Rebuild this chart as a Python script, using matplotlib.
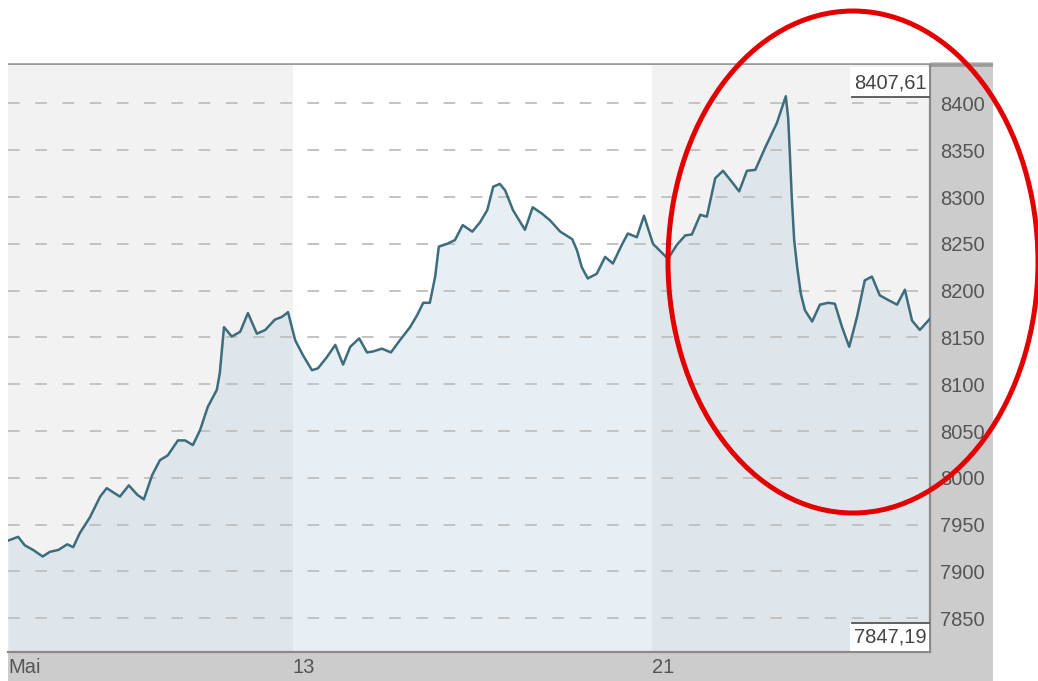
import matplotlib
matplotlib.use("Agg")
import matplotlib.pyplot as plt
from matplotlib.patches import Ellipse, Rectangle

plt.rcParams["font.family"] = ["Liberation Sans", "DejaVu Sans"]

# time in trading days since the start of the window, index level
days = [0.00, 0.17, 0.28, 0.42, 0.58, 0.70, 0.84, 0.99, 1.09, 1.20,
        1.37, 1.54, 1.65, 1.87, 2.02, 2.16, 2.27, 2.41, 2.54, 2.67,
        2.84, 2.96, 3.09, 3.21, 3.34, 3.49, 3.54, 3.61, 3.74, 3.88,
        4.01, 4.16, 4.30, 4.46, 4.58, 4.68, 4.80, 4.93, 5.08, 5.18,
        5.33, 5.47, 5.60, 5.72, 5.87, 6.00, 6.10, 6.25, 6.40, 6.55,
        6.72, 6.84, 6.94, 7.05, 7.14, 7.20, 7.34, 7.47, 7.60, 7.76,
        7.89, 8.01, 8.11, 8.22, 8.31, 8.44, 8.64, 8.77, 8.93, 9.06,
        9.23, 9.43, 9.51, 9.59, 9.69, 9.84, 9.98, 10.11, 10.26, 10.36,
        10.51, 10.63, 10.78, 11.03, 11.18, 11.32, 11.43, 11.57, 11.68, 11.82,
        11.95, 12.10, 12.22, 12.35, 12.49, 12.65, 12.85, 13.00, 13.04, 13.07,
        13.10, 13.14, 13.19, 13.25, 13.32, 13.44, 13.57, 13.71, 13.82, 13.94,
        14.06, 14.19, 14.32, 14.44, 14.57, 14.71, 14.86, 14.99, 15.11, 15.24,
        15.41]
level = [7933, 7937, 7928, 7923, 7916, 7921, 7923, 7929, 7926, 7941,
         7958, 7980, 7989, 7980, 7992, 7982, 7977, 8003, 8019, 8024,
         8040, 8040, 8035, 8051, 8076, 8094, 8112, 8161, 8151, 8156,
         8176, 8154, 8158, 8169, 8172, 8177, 8147, 8131, 8115, 8117,
         8129, 8142, 8121, 8140, 8149, 8134, 8135, 8138, 8134, 8147,
         8161, 8174, 8187, 8187, 8215, 8247, 8250, 8254, 8270, 8263,
         8273, 8286, 8311, 8314, 8307, 8286, 8265, 8289, 8282, 8275,
         8263, 8255, 8243, 8225, 8213, 8218, 8236, 8229, 8249, 8261,
         8257, 8280, 8250, 8234, 8249, 8259, 8260, 8281, 8279, 8320,
         8328, 8316, 8306, 8328, 8329, 8352, 8379, 8407.61, 8384, 8343,
         8299, 8254, 8225, 8197, 8179, 8167, 8185, 8187, 8186, 8161,
         8140, 8172, 8211, 8215, 8195, 8190, 8185, 8201, 8168, 8158,
         8170]

day_starts = [0, 4.76, 10.76]
day_labels = ["Mai", "13", "21"]
shaded = [(0, 4.76), (10.76, 15.41)]
yticks = [7850, 7900, 7950, 8000, 8050, 8100, 8150, 8200, 8250, 8300, 8350, 8400]
hi_label = "8407,61"
lo_label = "7847,19"

W, H = 1038, 681
fig = plt.figure(figsize=(W / 100, H / 100), dpi=100)
fig.patch.set_facecolor("white")

# background frame (grey bands, top rule), pixel coordinates
bg = fig.add_axes([0, 0, 1, 1], zorder=0)
bg.set_xlim(0, W)
bg.set_ylim(H, 0)
bg.axis("off")
bg.add_patch(Rectangle((930, 62), 63, H - 62, color="#cccccc", lw=0))
bg.add_patch(Rectangle((8, 652), 985, H - 652, color="#cccccc", lw=0))
bg.plot([8, 993], [64.5, 64.5], color="#9a9a9a", lw=2.6, solid_capstyle="butt")

ax = fig.add_axes([8 / W, 1 - 652 / H, 922 / W, 587 / H], zorder=1)
ax.set_facecolor("white")
for a, b in shaded:
    ax.axvspan(a, b, color="#f2f2f2", lw=0, zorder=0)
ax.fill_between(days, level, 7700, color="#b0cddd", alpha=0.3, lw=0, zorder=1)
for v in yticks:
    ax.axhline(v, color="#c2c2c2", lw=1.4, ls=(0, (6, 8)), zorder=2)
ax.plot(days, level, color="#3d6c7d", lw=1.8, zorder=3)

ax.set_xlim(0, 15.41)
ax.set_ylim(7814, 8441)
ax.yaxis.tick_right()
ax.set_yticks(yticks)
ax.set_yticklabels([str(v) for v in yticks])
ax.set_xticks(day_starts)
ax.set_xticklabels(day_labels, ha="left")
ax.tick_params(axis="y", length=0, pad=7, labelsize=14.5, labelcolor="#555555")
ax.tick_params(axis="x", length=0, pad=4, labelsize=14.5, labelcolor="#555555")
ax.spines["left"].set_visible(False)
ax.spines["top"].set_visible(False)
for s in ("right", "bottom"):
    ax.spines[s].set_color("#8a8a8a")
    ax.spines[s].set_linewidth(1.6)

# overlay: high/low boxes and the red marker ellipse
fg = fig.add_axes([0, 0, 1, 1], zorder=3)
fg.set_xlim(0, W)
fg.set_ylim(H, 0)
fg.axis("off")
fg.patch.set_alpha(0)
fg.add_patch(Rectangle((850, 67), 79, 30, color="white", lw=0))
fg.plot([852, 929], [97, 97], color="#555555", lw=1.3)
fg.text(927, 83, hi_label, ha="right", va="center", fontsize=14.5, color="#444444")
fg.add_patch(Rectangle((850, 623), 79, 28, color="white", lw=0))
fg.plot([852, 929], [623, 623], color="#555555", lw=1.3)
fg.text(927, 637, lo_label, ha="right", va="center", fontsize=14.5, color="#444444")
fg.add_patch(Ellipse((853, 262), 370, 502, angle=0, fill=False,
                     edgecolor="#e30000", lw=3.6))

fig.savefig("out.png", dpi=100)
